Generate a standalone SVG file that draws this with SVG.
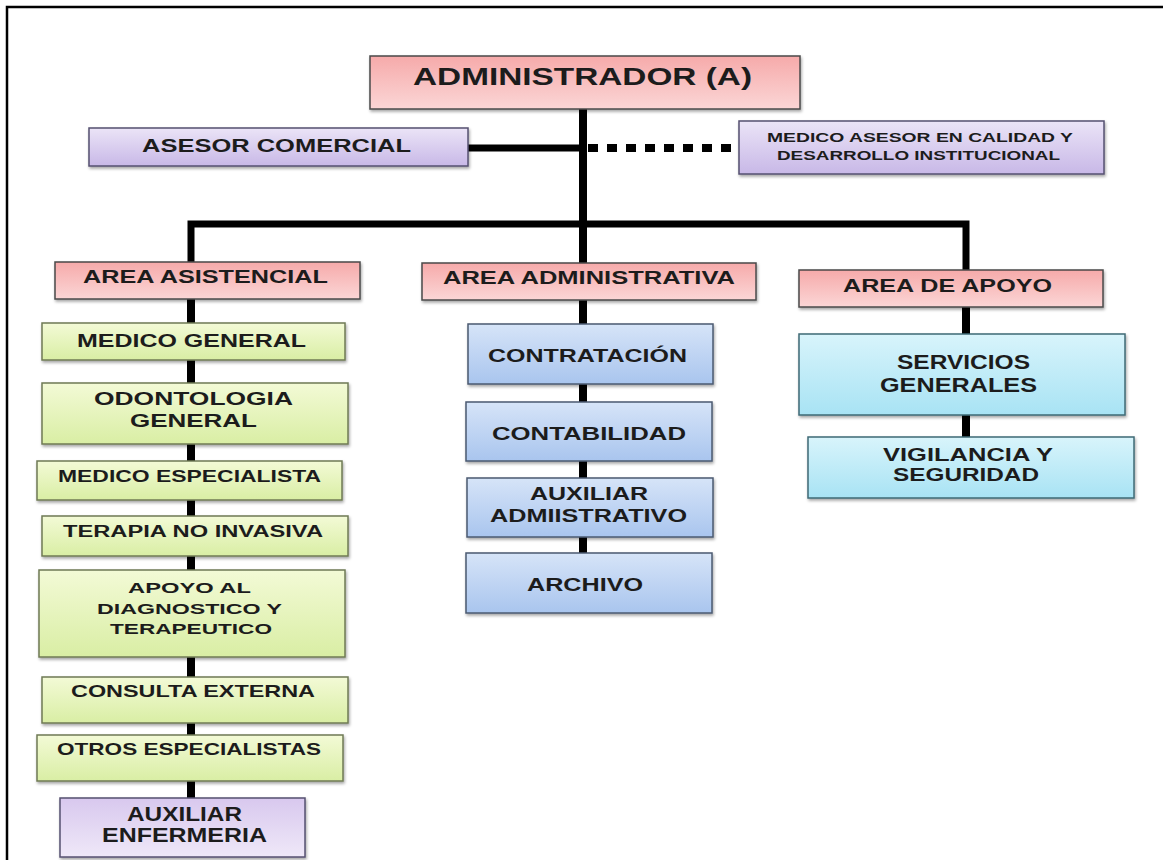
<svg xmlns="http://www.w3.org/2000/svg" width="1163" height="860" viewBox="0 0 1163 860">
<defs>
<linearGradient id="gPink" x1="0" y1="0" x2="0" y2="1"><stop offset="0" stop-color="#f6aaaa"/><stop offset="1" stop-color="#fbd6d6"/></linearGradient>
<linearGradient id="gGreen" x1="0" y1="0" x2="0" y2="1"><stop offset="0" stop-color="#f3fad6"/><stop offset="1" stop-color="#d9eea4"/></linearGradient>
<linearGradient id="gBlue" x1="0" y1="0" x2="0" y2="1"><stop offset="0" stop-color="#d6e4f8"/><stop offset="1" stop-color="#a9c5ee"/></linearGradient>
<linearGradient id="gCyan" x1="0" y1="0" x2="0" y2="1"><stop offset="0" stop-color="#d8f4fb"/><stop offset="1" stop-color="#a8e3f4"/></linearGradient>
<linearGradient id="gPurple" x1="0" y1="0" x2="0" y2="1"><stop offset="0" stop-color="#ebe4f7"/><stop offset="1" stop-color="#c8b8e7"/></linearGradient>
<linearGradient id="gPurple2" x1="0" y1="0" x2="0" y2="1"><stop offset="0" stop-color="#d8c8ee"/><stop offset="1" stop-color="#efe8f8"/></linearGradient>
<filter id="sh" x="-5%" y="-10%" width="110%" height="130%"><feDropShadow dx="1" dy="2" stdDeviation="1.5" flood-color="#000" flood-opacity="0.35"/></filter>
</defs>
<style>
.box{stroke:#4a4a4a;stroke-width:1.5;filter:url(#sh)}
.pink{fill:url(#gPink)}
.green{fill:url(#gGreen);stroke:#6f7a55}
.blue{fill:url(#gBlue);stroke:#4b5a70}
.cyan{fill:url(#gCyan);stroke:#3f6a75}
.purple{fill:url(#gPurple);stroke:#555070}
.purple2{fill:url(#gPurple2);stroke:#555070}
text{font-family:"Liberation Sans",Arial,sans-serif;font-weight:bold;fill:#1c1c1c;text-anchor:middle}
.ln{stroke:#000;fill:none;stroke-linejoin:miter;stroke-linecap:butt}
</style>
<rect width="1163" height="860" fill="#fff"/>
<path d="M7,870 V7 H1170" fill="none" stroke="#000" stroke-width="2.5"/>
<g id="connectors">
<path class="ln" d="M583,109 V263" stroke-width="8"/>
<path class="ln" d="M468,148 H583" stroke-width="7"/>
<path class="ln" d="M588,148 H739" stroke-width="8" stroke-dasharray="10 9"/>
<path class="ln" d="M191,262 V224 H966 V270" stroke-width="7"/>
<path class="ln" d="M191,299 V798" stroke-width="8"/>
<path class="ln" d="M583,300 V553" stroke-width="8"/>
<path class="ln" d="M966,307 V437" stroke-width="8"/>
</g>
<g id="administrador"><rect class="box pink" x="370" y="56" width="430" height="53"/><text x="582.5" y="85" font-size="24" textLength="339" lengthAdjust="spacingAndGlyphs">ADMINISTRADOR  (A)</text></g>
<g id="asesor-comercial"><rect class="box purple" x="89" y="128" width="379" height="38"/><text x="276.5" y="152" font-size="19" textLength="269" lengthAdjust="spacingAndGlyphs">ASESOR COMERCIAL</text></g>
<g id="medico-asesor"><rect class="box purple" x="739" y="121" width="365" height="53"/><text x="920" y="142" font-size="13.5" textLength="306" lengthAdjust="spacingAndGlyphs">MEDICO ASESOR EN CALIDAD Y</text><text x="918.5" y="160" font-size="13.5" textLength="283" lengthAdjust="spacingAndGlyphs">DESARROLLO  INSTITUCIONAL</text></g>
<g id="area-asistencial"><rect class="box pink" x="55" y="262" width="305" height="37"/><text x="205.5" y="283" font-size="18" textLength="245" lengthAdjust="spacingAndGlyphs">AREA ASISTENCIAL</text></g>
<g id="area-administrativa"><rect class="box pink" x="422" y="263" width="334" height="37"/><text x="589" y="284" font-size="18" textLength="292" lengthAdjust="spacingAndGlyphs">AREA ADMINISTRATIVA</text></g>
<g id="area-apoyo"><rect class="box pink" x="799" y="270" width="304" height="37"/><text x="947.5" y="292" font-size="19" textLength="209" lengthAdjust="spacingAndGlyphs">AREA DE APOYO</text></g>
<g id="medico-general"><rect class="box green" x="42" y="323" width="303" height="37"/><text x="191.5" y="347" font-size="19" textLength="229" lengthAdjust="spacingAndGlyphs">MEDICO GENERAL</text></g>
<g id="odontologia"><rect class="box green" x="42" y="383" width="306" height="61"/><text x="193.5" y="405" font-size="19" textLength="199" lengthAdjust="spacingAndGlyphs">ODONTOLOGIA</text><text x="193.5" y="427" font-size="19" textLength="127" lengthAdjust="spacingAndGlyphs">GENERAL</text></g>
<g id="medico-especialista"><rect class="box green" x="37" y="461" width="305" height="39"/><text x="189.5" y="482" font-size="17" textLength="263" lengthAdjust="spacingAndGlyphs">MEDICO ESPECIALISTA</text></g>
<g id="terapia"><rect class="box green" x="42" y="516" width="306" height="40"/><text x="193" y="537" font-size="16" textLength="260" lengthAdjust="spacingAndGlyphs">TERAPIA NO INVASIVA</text></g>
<g id="apoyo-diagnostico"><rect class="box green" x="39" y="570" width="306" height="87"/><text x="189.5" y="593" font-size="15.5" textLength="123" lengthAdjust="spacingAndGlyphs">APOYO AL</text><text x="189.5" y="614" font-size="15.5" textLength="185" lengthAdjust="spacingAndGlyphs">DIAGNOSTICO Y</text><text x="191" y="634" font-size="15.5" textLength="162" lengthAdjust="spacingAndGlyphs">TERAPEUTICO</text></g>
<g id="consulta-externa"><rect class="box green" x="42" y="677" width="306" height="46"/><text x="193" y="697" font-size="17" textLength="244" lengthAdjust="spacingAndGlyphs">CONSULTA EXTERNA</text></g>
<g id="otros-especialistas"><rect class="box green" x="37" y="735" width="306" height="46"/><text x="189" y="755" font-size="17" textLength="264" lengthAdjust="spacingAndGlyphs">OTROS ESPECIALISTAS</text></g>
<g id="auxiliar-enfermeria"><rect class="box purple2" x="60" y="798" width="245" height="59"/><text x="184.5" y="821" font-size="20" textLength="115" lengthAdjust="spacingAndGlyphs">AUXILIAR</text><text x="184.5" y="842" font-size="20" textLength="165" lengthAdjust="spacingAndGlyphs">ENFERMERIA</text></g>
<g id="contratacion"><rect class="box blue" x="468" y="324" width="245" height="60"/><text x="587.5" y="362" font-size="18.5" textLength="199" lengthAdjust="spacingAndGlyphs">CONTRATACIÓN</text></g>
<g id="contabilidad"><rect class="box blue" x="466" y="402" width="246" height="59"/><text x="589" y="440" font-size="19" textLength="194" lengthAdjust="spacingAndGlyphs">CONTABILIDAD</text></g>
<g id="auxiliar-administrativo"><rect class="box blue" x="467" y="478" width="246" height="59"/><text x="589" y="500" font-size="19" textLength="118" lengthAdjust="spacingAndGlyphs">AUXILIAR</text><text x="588.5" y="522" font-size="19" textLength="197" lengthAdjust="spacingAndGlyphs">ADMIISTRATIVO</text></g>
<g id="archivo"><rect class="box blue" x="466" y="553" width="246" height="60"/><text x="585" y="591" font-size="19" textLength="116" lengthAdjust="spacingAndGlyphs">ARCHIVO</text></g>
<g id="servicios-generales"><rect class="box cyan" x="799" y="334" width="326" height="81"/><text x="963.5" y="369" font-size="19.5" textLength="133" lengthAdjust="spacingAndGlyphs">SERVICIOS</text><text x="958.5" y="392" font-size="19.5" textLength="157" lengthAdjust="spacingAndGlyphs">GENERALES</text></g>
<g id="vigilancia-seguridad"><rect class="box cyan" x="808" y="437" width="326" height="61"/><text x="968" y="461" font-size="17.5" textLength="170" lengthAdjust="spacingAndGlyphs">VIGILANCIA Y</text><text x="966" y="481" font-size="17.5" textLength="146" lengthAdjust="spacingAndGlyphs">SEGURIDAD</text></g>
</svg>
